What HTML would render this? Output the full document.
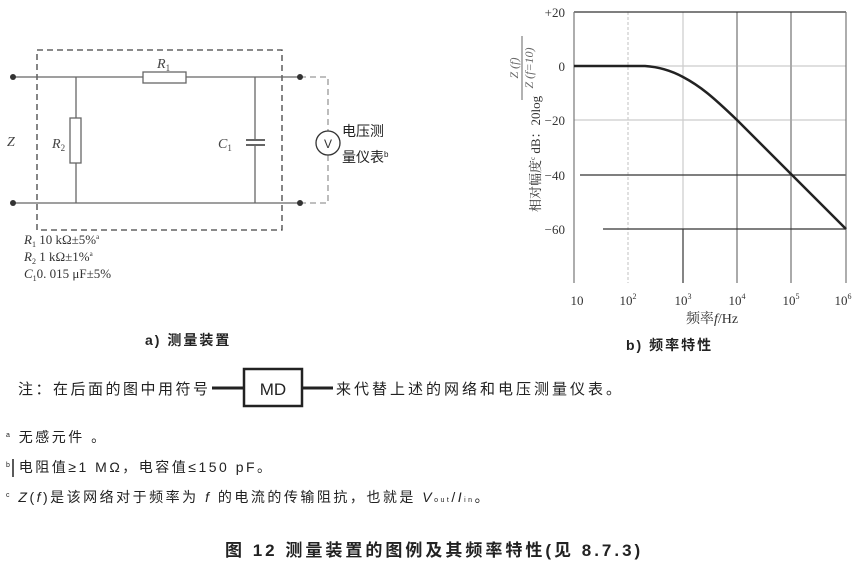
<!DOCTYPE html>
<html><head><meta charset="utf-8"><style>
html,body{margin:0;padding:0;background:#fff;}
svg{display:block;font-family:"Liberation Serif","Noto Serif CJK SC",serif;}
.s{font-family:"Liberation Sans","Noto Sans CJK SC",sans-serif;}
</style></head><body>
<svg width="860" height="570" viewBox="0 0 860 570" xmlns="http://www.w3.org/2000/svg">
<!-- circuit -->
<g stroke="#666" stroke-width="1.3" fill="none">
<rect x="37" y="50" width="245" height="180" stroke-dasharray="6,4" stroke="#444"/>
<line x1="13" y1="77" x2="143" y2="77"/><line x1="186" y1="77" x2="300" y2="77"/>
<line x1="13" y1="203" x2="300" y2="203"/>
<rect x="143" y="72" width="43" height="11" fill="#fff"/>
<line x1="76" y1="77" x2="76" y2="118"/><line x1="76" y1="163" x2="76" y2="203"/>
<rect x="70" y="118" width="11" height="45" fill="#fff"/>
<line x1="255" y1="77" x2="255" y2="140"/><line x1="255" y1="145" x2="255" y2="203"/>
<line x1="246" y1="140" x2="265" y2="140" stroke-width="2"/><line x1="246" y1="145" x2="265" y2="145" stroke-width="2"/>
<path d="M300 77 H328 V131 M328 155 V203 H300" stroke="#999" stroke-dasharray="6,4"/>
<circle cx="328" cy="143" r="12" stroke="#333"/>
</g>
<g fill="#333"><circle cx="13" cy="77" r="3"/><circle cx="13" cy="203" r="3"/><circle cx="300" cy="77" r="3"/><circle cx="300" cy="203" r="3"/></g>
<text x="324" y="148" font-size="12" class="s" fill="#333">V</text>
<g font-size="14" fill="#444" font-style="italic">
<text x="157" y="68">R<tspan font-size="9" dy="3" font-style="normal">1</tspan></text>
<text x="52" y="148">R<tspan font-size="9" dy="3" font-style="normal">2</tspan></text>
<text x="218" y="148">C<tspan font-size="9" dy="3" font-style="normal">1</tspan></text>
<text x="7" y="146">Z</text>
</g>
<text x="342" y="136" font-size="14" fill="#222" class="s">电压测</text>
<text x="342" y="162" font-size="14" fill="#222" class="s">量仪表<tspan font-size="8" dy="-5">b</tspan></text>
<g font-size="13" fill="#333">
<text x="24" y="244"><tspan font-style="italic">R</tspan><tspan font-size="8" dy="3">1</tspan><tspan dy="-3"> 10 kΩ±5%</tspan><tspan font-size="7" dy="-5">a</tspan></text>
<text x="24" y="261"><tspan font-style="italic">R</tspan><tspan font-size="8" dy="3">2</tspan><tspan dy="-3">  1 kΩ±1%</tspan><tspan font-size="7" dy="-5">a</tspan></text>
<text x="24" y="278"><tspan font-style="italic">C</tspan><tspan font-size="8" dy="3">1</tspan><tspan dy="-3">0. 015 μF±5%</tspan></text>
</g>
<!-- chart -->
<g fill="none">
<g stroke="#ccc" stroke-width="1.2">
<line x1="574" y1="66" x2="846" y2="66"/><line x1="574" y1="120" x2="846" y2="120"/>
<line x1="628" y1="12" x2="628" y2="283" stroke-dasharray="3,2"/>
<line x1="683" y1="12" x2="683" y2="229"/>
</g>
<g stroke="#aaa" stroke-width="2"><line x1="737" y1="12" x2="737" y2="283"/><line x1="791" y1="12" x2="791" y2="283"/></g>
<g stroke="#333" stroke-width="1.2">
<line x1="574" y1="12" x2="846" y2="12"/>
<line x1="580" y1="175" x2="846" y2="175"/>
<line x1="603" y1="229" x2="846" y2="229"/>
<line x1="683" y1="229" x2="683" y2="283"/>
<line x1="574" y1="12" x2="574" y2="283" stroke="#777"/>
<line x1="846" y1="12" x2="846" y2="283" stroke="#777"/>
</g>
<path d="M574 66 L645 66 C660 67 672 71 683 77 C700 86 712 96 737 120 L846 229" stroke="#222" stroke-width="2.5"/>
</g>
<g font-size="13" fill="#333" text-anchor="end">
<text x="565" y="17">+20</text><text x="565" y="71">0</text><text x="565" y="125">−20</text>
<text x="565" y="180">−40</text><text x="565" y="234">−60</text>
</g>
<g font-size="13" fill="#333" text-anchor="middle">
<text x="577" y="305">10</text>
<text x="628" y="305">10<tspan font-size="8" dy="-6">2</tspan></text>
<text x="683" y="305">10<tspan font-size="8" dy="-6">3</tspan></text>
<text x="737" y="305">10<tspan font-size="8" dy="-6">4</tspan></text>
<text x="791" y="305">10<tspan font-size="8" dy="-6">5</tspan></text>
<text x="843" y="305">10<tspan font-size="8" dy="-6">6</tspan></text>
<text x="712" y="323" font-size="14">频率<tspan font-style="italic">f</tspan>/Hz</text>
</g>
<g transform="translate(540,212) rotate(-90)" font-size="13" fill="#333"><text x="0" y="0">相对幅度<tspan font-size="7" dy="-5">c</tspan><tspan dy="5"> dB：20log</tspan></text></g>
<g transform="translate(522,68) rotate(-90)" font-size="12" fill="#666" font-style="italic" text-anchor="middle">
<text x="0" y="-4">Z (f)</text><line x1="-32" y1="0" x2="32" y2="0" stroke="#666"/><text x="0" y="11">Z (f=10)</text></g>
<text x="626" y="350" font-size="14" fill="#222" class="s" letter-spacing="2" font-weight="bold">b)  频率特性</text>
<text x="145" y="345" font-size="14" fill="#222" class="s" letter-spacing="2" font-weight="bold">a)  测量装置</text>
<!-- note -->
<g font-size="15" fill="#222" class="s" letter-spacing="2.5">
<text x="18" y="394">注：在后面的图中用符号</text>
<text x="336" y="394" letter-spacing="3">来代替上述的网络和电压测量仪表。</text>
</g>
<line x1="212" y1="388" x2="243" y2="388" stroke="#222" stroke-width="3"/>
<line x1="303" y1="388" x2="333" y2="388" stroke="#222" stroke-width="3"/>
<rect x="244" y="369" width="58" height="37" fill="#fff" stroke="#222" stroke-width="2.5"/>
<text x="273" y="395" font-size="17" text-anchor="middle" class="s" fill="#222">MD</text>
<g font-size="14" fill="#222" class="s" letter-spacing="2.5">
<text x="6" y="442"><tspan font-size="7" dy="-5">a</tspan><tspan dy="5">  无感元件 。</tspan></text>
<text x="6" y="472"><tspan font-size="7" dy="-5">b</tspan><tspan dy="5">  电阻值≥1 MΩ，电容值≤150 pF。</tspan></text>
<text x="6" y="502"><tspan font-size="7" dy="-5">c</tspan><tspan dy="5" font-style="italic"> Z</tspan><tspan>(</tspan><tspan font-style="italic">f</tspan><tspan>)是该网络对于频率为 </tspan><tspan font-style="italic">f</tspan><tspan> 的电流的传输阻抗，也就是 </tspan><tspan font-style="italic">V</tspan><tspan font-size="7">out</tspan><tspan>/</tspan><tspan font-style="italic">I</tspan><tspan font-size="7">in</tspan><tspan>。</tspan></text>
</g>
<line x1="13" y1="459" x2="13" y2="477" stroke="#222" stroke-width="1.5"/>
<text x="225" y="556" font-size="17" fill="#222" class="s" letter-spacing="3" font-weight="bold">图 12  测量装置的图例及其频率特性(见 8.7.3)</text>
</svg>
</body></html>
